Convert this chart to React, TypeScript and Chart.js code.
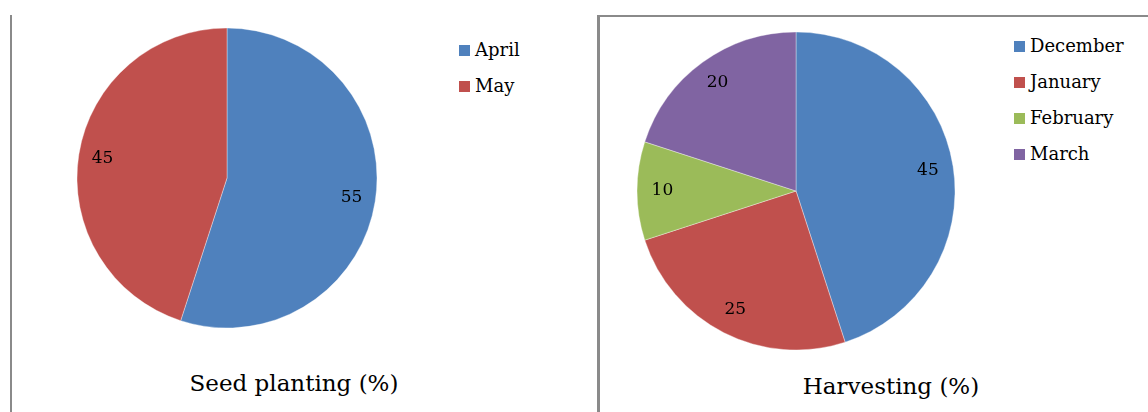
import React, { useEffect, useRef } from "react";
import { Chart, registerables } from "chart.js";

Chart.register(...registerables);

const plantingLabels = ["April", "May"];
const plantingValues = [55, 45];
const plantingColors = ["#4F81BD", "#C0504D"];
const plantingTitle = "Seed planting (%)";

const harvestLabels = ["December", "January", "February", "March"];
const harvestValues = [45, 25, 10, 20];
const harvestColors = ["#4F81BD", "#C0504D", "#9BBB59", "#8064A2"];
const harvestTitle = "Harvesting (%)";

const FONT = "'DejaVu Serif', 'Liberation Serif', serif";

const labelPlugin = {
  id: "sliceLabels",
  afterDatasetsDraw(chart: any) {
    const ctx = chart.ctx;
    const meta = chart.getDatasetMeta(0);
    const data = chart.data.datasets[0].data;
    ctx.save();
    ctx.font = "17px " + FONT;
    ctx.fillStyle = "#000";
    ctx.textAlign = "center";
    ctx.textBaseline = "middle";
    meta.data.forEach((arc: any, i: number) => {
      const p = arc.getProps(["x", "y", "startAngle", "endAngle", "outerRadius"], true);
      const mid = (p.startAngle + p.endAngle) / 2;
      const d = p.outerRadius * 0.84;
      ctx.fillText(String(data[i]), p.x + Math.cos(mid) * d, p.y + Math.sin(mid) * d);
    });
    ctx.restore();
  },
};

function PieCanvas(props: {
  labels: string[];
  values: number[];
  colors: string[];
  radius: number;
  size: number;
  left: number;
  top: number;
}) {
  const ref = useRef<HTMLCanvasElement>(null);
  useEffect(() => {
    if (!ref.current) return;
    const chart = new Chart(ref.current, {
      type: "pie",
      data: {
        labels: props.labels,
        datasets: [
          {
            data: props.values,
            backgroundColor: props.colors,
            borderColor: "rgba(255,255,255,0.6)",
            borderWidth: 0.6,
            hoverOffset: 0,
          },
        ],
      },
      options: {
        responsive: false,
        animation: false,
        radius: props.radius,
        layout: { padding: 0 },
        plugins: {
          legend: { display: false },
          title: { display: false },
          tooltip: { enabled: false },
        },
      } as any,
      plugins: [labelPlugin],
    });
    return () => chart.destroy();
  }, []);
  return (
    <canvas
      ref={ref}
      width={props.size}
      height={props.size}
      style={{ position: "absolute", left: props.left, top: props.top, width: props.size, height: props.size }}
    />
  );
}

function Legend(props: { labels: string[]; colors: string[]; left: number; top: number }) {
  return (
    <div style={{ position: "absolute", left: props.left, top: props.top, fontFamily: FONT, fontSize: 18, color: "#000" }}>
      {props.labels.map((l, i) => (
        <div key={l} style={{ display: "flex", alignItems: "center", height: 36 }}>
          <div style={{ width: 11, height: 11, background: props.colors[i], marginRight: 5 }} />
          <span style={{ lineHeight: "18px" }}>{l}</span>
        </div>
      ))}
    </div>
  );
}

export default function App() {
  return (
    <div style={{ position: "absolute", left: 0, top: 0, width: 1148, height: 412, background: "#fff", overflow: "hidden" }}>
      <div style={{ position: "absolute", left: 10, top: 15, width: 2, height: 397, background: "#8a8a8a" }} />
      <div style={{ position: "absolute", left: 597, top: 15, width: 551, height: 2, background: "#8a8a8a" }} />
      <div style={{ position: "absolute", left: 597, top: 15, width: 3, height: 397, background: "#8a8a8a" }} />
      <PieCanvas labels={plantingLabels} values={plantingValues} colors={plantingColors} radius={150} size={320} left={67} top={18} />
      <PieCanvas labels={harvestLabels} values={harvestValues} colors={harvestColors} radius={159} size={340} left={626} top={21} />
      <Legend labels={plantingLabels} colors={plantingColors} left={459} top={32} />
      <Legend labels={harvestLabels} colors={harvestColors} left={1014} top={28} />
      <div style={{ position: "absolute", left: 144, width: 300, top: 372, textAlign: "center", fontFamily: FONT, fontSize: 23, lineHeight: "23px", whiteSpace: "nowrap" }}>
        {plantingTitle}
      </div>
      <div style={{ position: "absolute", left: 741, width: 300, top: 375, textAlign: "center", fontFamily: FONT, fontSize: 23, lineHeight: "23px", whiteSpace: "nowrap" }}>
        {harvestTitle}
      </div>
    </div>
  );
}
